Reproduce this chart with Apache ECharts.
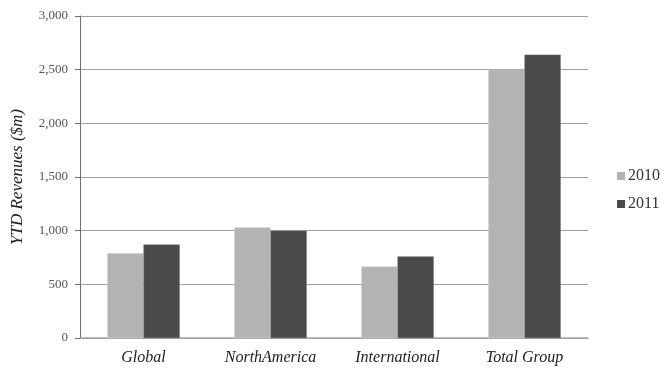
<!DOCTYPE html>
<html>
<head>
<meta charset="utf-8">
<script src="https://cdn.jsdelivr.net/npm/echarts@6/dist/echarts.min.js"></script>
<style>
  html, body { margin: 0; padding: 0; background: #fff; }
  #chart { width: 663px; height: 369px; }
</style>
</head>
<body>
<div id="chart"></div>
<script>
// Year-to-date revenues by segment ($m)
const categories = ['Global', 'NorthAmerica', 'International', 'Total Group'];
const seriesNames = ['2010', '2011'];
const revenues2010 = [790, 1030, 665, 2500];
const revenues2011 = [870, 1000, 760, 2640];
const yTicks = [0, 500, 1000, 1500, 2000, 2500, 3000];

const serif = '"Liberation Serif", "DejaVu Serif", serif';
const chart = echarts.init(document.getElementById('chart'), null, { renderer: 'canvas' });

chart.setOption({
  animation: false,
  backgroundColor: '#ffffff',
  grid: {
    left: 80, right: 75, top: 16, bottom: 31,
    containLabel: false, outerBoundsMode: 'none'
  },
  legend: {
    orient: 'vertical',
    left: 612,
    top: 163,
    itemWidth: 8,
    itemHeight: 8,
    itemGap: 12,
    icon: 'rect',
    itemStyle: { borderWidth: 0 },
    textStyle: { fontFamily: serif, fontSize: 16, color: '#333', padding: [0, 0, 0, -2] },
    data: seriesNames
  },
  xAxis: {
    type: 'category',
    data: categories,
    axisLine: { show: true, lineStyle: { color: '#a8a8a8', width: 1.5 } },
    axisTick: { show: false },
    axisLabel: {
      fontFamily: serif, fontSize: 16, fontStyle: 'italic', color: '#222', margin: 12
    }
  },
  yAxis: {
    type: 'value',
    min: yTicks[0],
    max: yTicks[yTicks.length - 1],
    interval: 500,
    name: 'YTD Revenues ($m)',
    nameLocation: 'middle',
    nameGap: 54,
    nameTextStyle: { fontFamily: serif, fontSize: 17, fontStyle: 'italic', color: '#222' },
    axisLine: { show: true, lineStyle: { color: '#707070', width: 1 } },
    axisTick: { show: true, inside: false, length: 5, lineStyle: { color: '#707070' } },
    axisLabel: {
      fontFamily: serif, fontSize: 13, color: '#555', margin: 12,
      formatter: v => v.toLocaleString('en-US')
    },
    splitLine: { show: true, lineStyle: { color: '#a0a0a0', width: 1 } }
  },
  series: [
    {
      name: seriesNames[0], type: 'bar', data: revenues2010,
      barGap: '0%', barCategoryGap: '43%',
      itemStyle: { color: '#b3b3b3', borderColor: '#cfcfcf', borderWidth: 0.5 }
    },
    {
      name: seriesNames[1], type: 'bar', data: revenues2011,
      barGap: '0%', barCategoryGap: '43%',
      itemStyle: { color: '#4a4a4a', borderColor: '#6a6a6a', borderWidth: 0.5 }
    }
  ]
});
</script>
</body>
</html>
